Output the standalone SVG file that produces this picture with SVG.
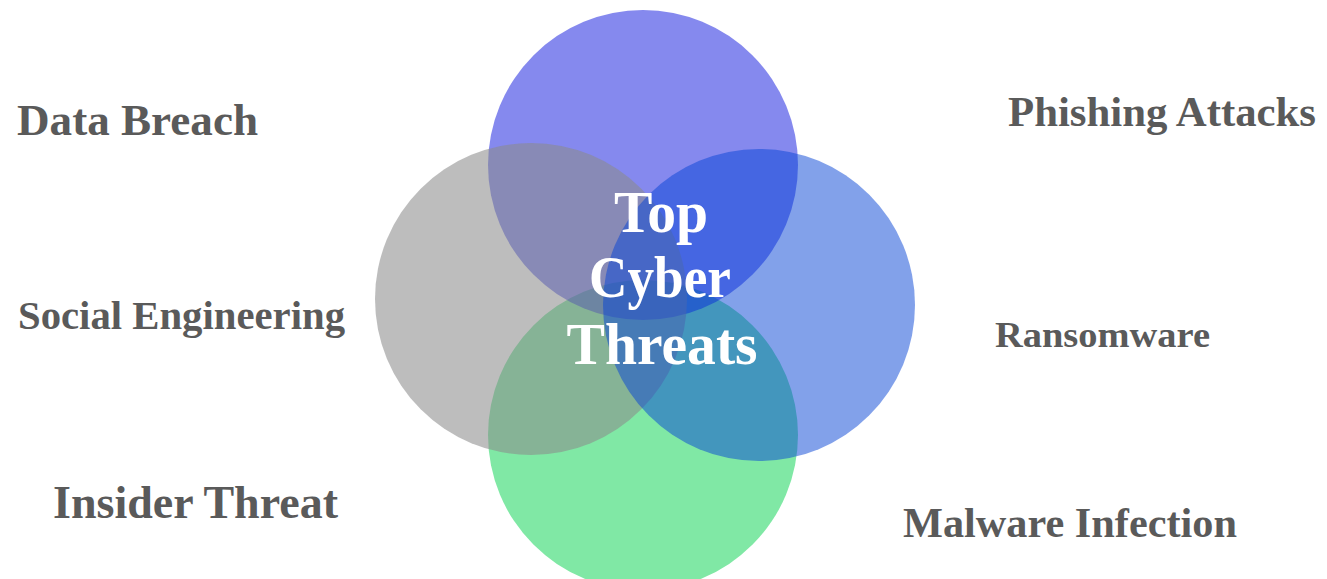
<svg xmlns="http://www.w3.org/2000/svg" width="1327" height="579" viewBox="0 0 1327 579">
  <style>
    .label { font-family: "Liberation Serif", "DejaVu Serif", serif; font-weight: bold; fill: #5a5a5a; }
    .title { font-family: "Liberation Serif", "DejaVu Serif", serif; font-weight: bold; fill: #ffffff; font-size: 60px; text-anchor: middle; }
  </style>
  <rect width="1327" height="579" fill="#ffffff"/>

  <!-- overlapping threat circles, back to front -->
  <g id="circles">
    <circle id="circle-green" cx="643" cy="435" r="155" fill="#80e8a5"/>
    <circle id="circle-top" cx="643" cy="165" r="155" fill="#0b13dd" fill-opacity="0.5"/>
    <circle id="circle-gray" cx="531" cy="299" r="156" fill="#8b8b8b" fill-opacity="0.57"/>
    <circle id="circle-right" cx="759" cy="305" r="156" fill="#0543d5" fill-opacity="0.5"/>
  </g>

  <g id="center-title">
    <text class="title" x="661" y="232" textLength="94" lengthAdjust="spacingAndGlyphs">Top</text>
    <text class="title" x="660" y="297" textLength="142" lengthAdjust="spacingAndGlyphs">Cyber</text>
    <text class="title" x="662" y="364" textLength="191" lengthAdjust="spacingAndGlyphs">Threats</text>
  </g>

  <g id="node-data-breach">
    <text class="label" x="17" y="135" font-size="44" textLength="241" lengthAdjust="spacingAndGlyphs">Data Breach</text>
  </g>
  <g id="node-phishing">
    <text class="label" x="1008" y="126" font-size="43" textLength="308" lengthAdjust="spacingAndGlyphs">Phishing Attacks</text>
  </g>
  <g id="node-social-engineering">
    <text class="label" x="18" y="329" font-size="39" textLength="327" lengthAdjust="spacingAndGlyphs">Social Engineering</text>
  </g>
  <g id="node-ransomware">
    <text class="label" x="995" y="347" font-size="36" textLength="215" lengthAdjust="spacingAndGlyphs">Ransomware</text>
  </g>
  <g id="node-insider-threat">
    <text class="label" x="53" y="518" font-size="46" textLength="285" lengthAdjust="spacingAndGlyphs">Insider Threat</text>
  </g>
  <g id="node-malware">
    <text class="label" x="903" y="537" font-size="43" textLength="334" lengthAdjust="spacingAndGlyphs">Malware Infection</text>
  </g>
</svg>
